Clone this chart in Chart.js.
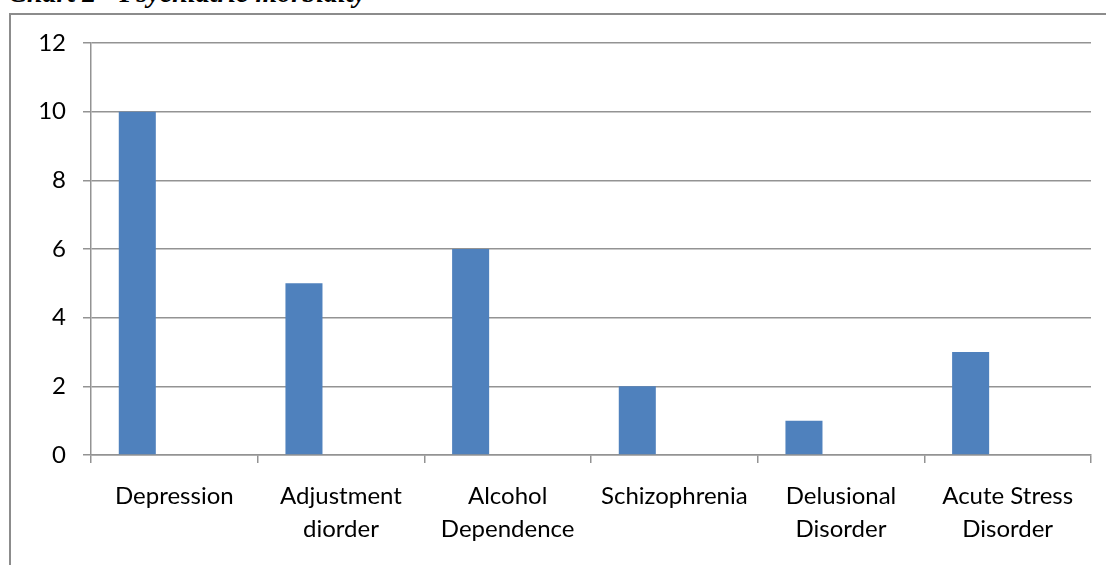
<!DOCTYPE html>
<html>
<head>
<meta charset="utf-8">
<script src="https://cdn.jsdelivr.net/npm/chart.js@4"></script>
<style>
  html, body { margin: 0; padding: 0; background: #fff; overflow: hidden; }
  #wrap { position: relative; width: 1106px; height: 565px; overflow: hidden; }
  #frame { position: absolute; left: 9px; top: 13px; width: 2000px; height: 2000px; border: 2px solid #8c8c8c; }
  #title { position: absolute; right: 740px; top: -21px; white-space: nowrap;
           font: italic bold 28px "Liberation Serif", serif; line-height: 28px; color: #000; }
  #box { position: absolute; left: 0; top: 0; width: 1106px; height: 565px; }
</style>
</head>
<body>
<div id="wrap">
  <div id="title">Chart 2 - Psychiatric morbidity</div>
  <div id="frame"></div>
  <div id="box"><canvas id="myChart"></canvas></div>
</div>
<script>
var categories = ['Depression', ['Adjustment', 'diorder'], ['Alcohol', 'Dependence'],
  'Schizophrenia', ['Delusional', 'Disorder'], ['Acute Stress', 'Disorder']];
var cases = [10, 5, 6, 2, 1, 3];
// the original sheet had two more (empty) series, which is why bars sit on the left
var series2 = [null, null, null, null, null, null];
var series3 = [null, null, null, null, null, null];
var yTicks = [0, 2, 4, 6, 8, 10, 12];

var gridGray = '#939393';
var font = { family: 'Lato, "Liberation Sans", sans-serif', size: 24, lineHeight: '33px' };

var ctx = document.getElementById('myChart').getContext('2d');
var myChart = new Chart(ctx, {
  type: 'bar',
  data: {
    labels: categories,
    datasets: [
      { label: 'Cases', data: cases, backgroundColor: '#4f81bd', borderWidth: 0 },
      { label: 'S2', data: series2, backgroundColor: '#c0504d' },
      { label: 'S3', data: series3, backgroundColor: '#9bbb59' }
    ]
  },
  options: {
    responsive: true,
    maintainAspectRatio: false,
    animation: false,
    layout: { padding: { top: 43, right: 15, left: 0, bottom: 0 } },
    datasets: { bar: { categoryPercentage: 3 / 4.5, barPercentage: 1 } },
    plugins: { legend: { display: false }, tooltip: { enabled: false }, title: { display: false } },
    scales: {
      x: {
        grid: { display: true, offset: true, drawOnChartArea: false, drawTicks: true, tickLength: 8, color: gridGray, lineWidth: 1.5 },
        border: { display: true, color: gridGray, width: 1.5 },
        ticks: { color: '#000', font: font, padding: 17, maxRotation: 0, autoSkip: false },
        afterFit: function(scale) { scale.height = 110; }
      },
      y: {
        min: yTicks[0],
        max: yTicks[yTicks.length - 1],
        afterBuildTicks: function(scale) { scale.ticks = yTicks.map(function(v) { return { value: v }; }); },
        grid: { color: gridGray, lineWidth: 1.5, tickLength: 8, drawTicks: true },
        border: { display: true, color: gridGray, width: 1.5 },
        ticks: { color: '#000', font: { family: font.family, size: 24 }, padding: 17 },
        afterFit: function(scale) { scale.width = 91; }
      }
    }
  }
});
</script>
</body>
</html>
